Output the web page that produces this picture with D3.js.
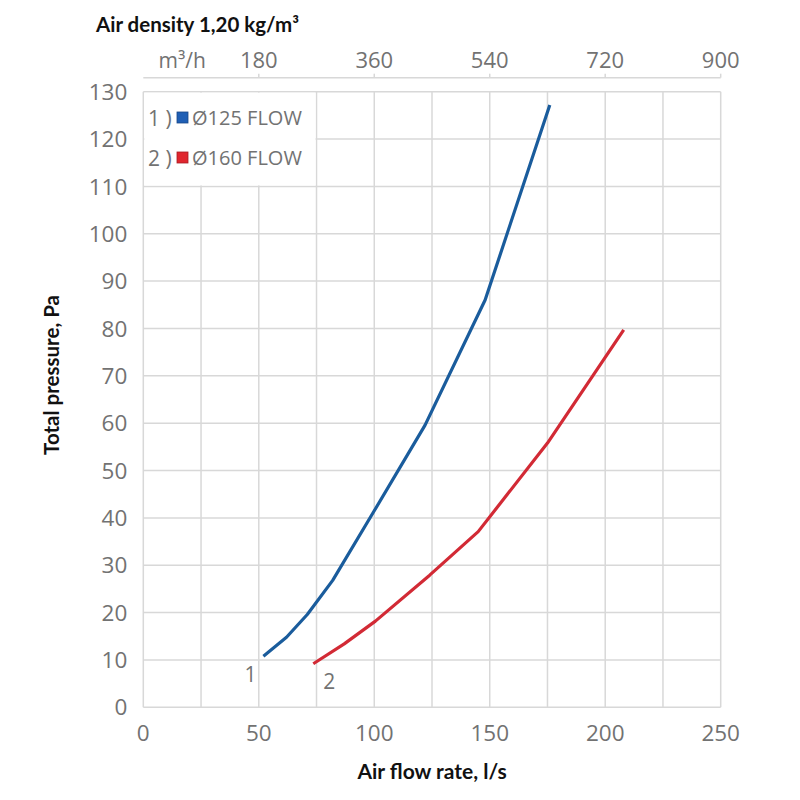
<!DOCTYPE html>
<html><head><meta charset="utf-8">
<script src="https://cdn.jsdelivr.net/npm/d3@7"></script>
<style>body{margin:0;background:#fff}</style>
</head><body>
<svg id="c" width="800" height="800"></svg>
<script>
// ---- data ----
const xTicks = [0, 50, 100, 150, 200, 250];
const yTicks = [0,10,20,30,40,50,60,70,80,90,100,110,120,130];
const xGrid = [0,25,50,75,100,125,150,175,200,225,250];
const topTicks = [180, 360, 540, 720, 900];
const seriesNames = ["Ø125 FLOW", "Ø160 FLOW"];
const seriesIds = ["1", "2"];
const flow125 = [52, 62, 71, 82, 100, 122, 148, 176];
const pres125 = [10.8, 14.8, 19.6, 26.8, 41.5, 59.6, 86.0, 127.2];
const flow160 = [73.6, 87, 100.5, 124, 145, 175, 208];
const pres160 = [9.2, 13.4, 18.2, 27.9, 37.1, 55.8, 79.7];

const colors = ["#1a5c9c", "#d22a35"];
const legendColors = ["#1f5fb5", "#e0262e"];

const L = 143.3, R = 720.7, T = 91.7, B = 707.3;
const x = d3.scaleLinear().domain([0, 250]).range([L, R]);
const xTop = d3.scaleLinear().domain([0, 900]).range([L, R]);
const y = d3.scaleLinear().domain([0, 130]).range([B, T]);

const svg = d3.select("#c");
const grey = "#727272";
const gridC = "#d8d8d8";
const tickFont = "'Open Sans', sans-serif";
const titleFont = "Lato, 'Open Sans', sans-serif";
const tw = 400;

// grid
const g = svg.append("g");
g.selectAll("line.v").data(xGrid).join("line")
  .attr("x1", d => x(d)).attr("x2", d => x(d)).attr("y1", T).attr("y2", B)
  .attr("stroke", gridC).attr("stroke-width", 1.5);
g.selectAll("line.h").data(yTicks).join("line")
  .attr("y1", d => y(d)).attr("y2", d => y(d)).attr("x1", L).attr("x2", R)
  .attr("stroke", gridC).attr("stroke-width", 1.5);

// legend cell (covers interior grid)
svg.append("rect").attr("x", x(0) + 1).attr("y", y(130) + 1)
  .attr("width", x(75) - x(0) - 2).attr("height", y(110) - y(130) - 2)
  .attr("fill", "#fff");

// y tick labels
svg.append("g").selectAll("text").data(yTicks).join("text")
  .attr("x", L - 16).attr("y", d => y(d)).attr("dy", "0.36em")
  .attr("text-anchor", "end").attr("fill", grey)
  .attr("font-family", tickFont).attr("font-weight", tw).attr("font-size", 22.5)
  .text(d => d);

// x tick labels
svg.append("g").selectAll("text").data(xTicks).join("text")
  .attr("x", d => x(d)).attr("y", B + 34)
  .attr("text-anchor", "middle").attr("fill", grey)
  .attr("font-family", tickFont).attr("font-weight", tw).attr("font-size", 22.5)
  .text(d => d);

// top axis
const topY = 77.7;
svg.append("line").attr("x1", L).attr("x2", xTop(900)).attr("y1", topY).attr("y2", topY)
  .attr("stroke", gridC).attr("stroke-width", 1.5);
svg.append("g").selectAll("line").data(topTicks).join("line")
  .attr("x1", d => xTop(d)).attr("x2", d => xTop(d)).attr("y1", topY).attr("y2", topY - 4)
  .attr("stroke", gridC).attr("stroke-width", 1.5);
svg.append("g").selectAll("text").data(topTicks).join("text")
  .attr("x", d => xTop(d)).attr("y", topY - 10)
  .attr("text-anchor", "middle").attr("fill", grey)
  .attr("font-family", tickFont).attr("font-weight", tw).attr("font-size", 22)
  .text(d => d);
svg.append("text").attr("x", xTop(180) - 53).attr("y", topY - 10)
  .attr("text-anchor", "end").attr("fill", grey)
  .attr("font-family", tickFont).attr("font-weight", tw).attr("font-size", 21)
  .text("m³/h");

// titles
svg.append("text").attr("x", 96).attr("y", 32)
  .attr("font-family", titleFont).attr("font-weight", 700).attr("font-size", 20.5)
  .attr("fill", "#111").text("Air density 1,20 kg/m³");
svg.append("text").attr("x", (L + R) / 2).attr("y", 779)
  .attr("text-anchor", "middle")
  .attr("font-family", titleFont).attr("font-weight", 700).attr("font-size", 21)
  .attr("fill", "#111").text("Air flow rate, l/s");
svg.append("text").attr("transform", "translate(59,375) rotate(-90)")
  .attr("text-anchor", "middle")
  .attr("font-family", titleFont).attr("font-weight", 700).attr("font-size", 20.5)
  .attr("fill", "#111").text("Total pressure, Pa");

// curves
const line = d3.line().x(d => x(d[0])).y(d => y(d[1]));
const s1 = flow125.map((f, i) => [f, pres125[i]]);
const s2 = flow160.map((f, i) => [f, pres160[i]]);
[s1, s2].forEach((s, i) => {
  svg.append("path").datum(s).attr("d", line).attr("fill", "none")
    .attr("stroke", colors[i]).attr("stroke-width", 3.2)
    .attr("stroke-linejoin", "round");
});

// curve id labels
svg.append("text").attr("x", x(s1[0][0]) - 13).attr("y", y(s1[0][1]) + 26)
  .attr("text-anchor", "middle").attr("fill", grey)
  .attr("font-family", tickFont).attr("font-weight", tw).attr("font-size", 21)
  .text(seriesIds[0]);
svg.append("text").attr("x", x(s2[0][0]) + 16).attr("y", y(s2[0][1]) + 25)
  .attr("text-anchor", "middle").attr("fill", grey)
  .attr("font-family", tickFont).attr("font-weight", tw).attr("font-size", 21)
  .text(seriesIds[1]);

// legend
const lg = svg.append("g");
seriesNames.forEach((n, i) => {
  const cy = 118 + i * 40;
  lg.append("text").attr("x", 148).attr("y", cy).attr("dy", "0.36em")
    .attr("fill", grey).attr("font-family", tickFont).attr("font-weight", tw)
    .attr("font-size", 21).text(seriesIds[i] + " )");
  lg.append("rect").attr("x", 177).attr("y", cy - 6).attr("width", 11).attr("height", 11)
    .attr("fill", legendColors[i]).attr("stroke", d3.color(legendColors[i]).darker(0.8)).attr("stroke-width", 0.8);
  lg.append("text").attr("x", 192).attr("y", cy).attr("dy", "0.36em")
    .attr("fill", grey).attr("font-family", tickFont).attr("font-weight", tw)
    .attr("font-size", 20).text(n);
});
</script>
</body></html>
